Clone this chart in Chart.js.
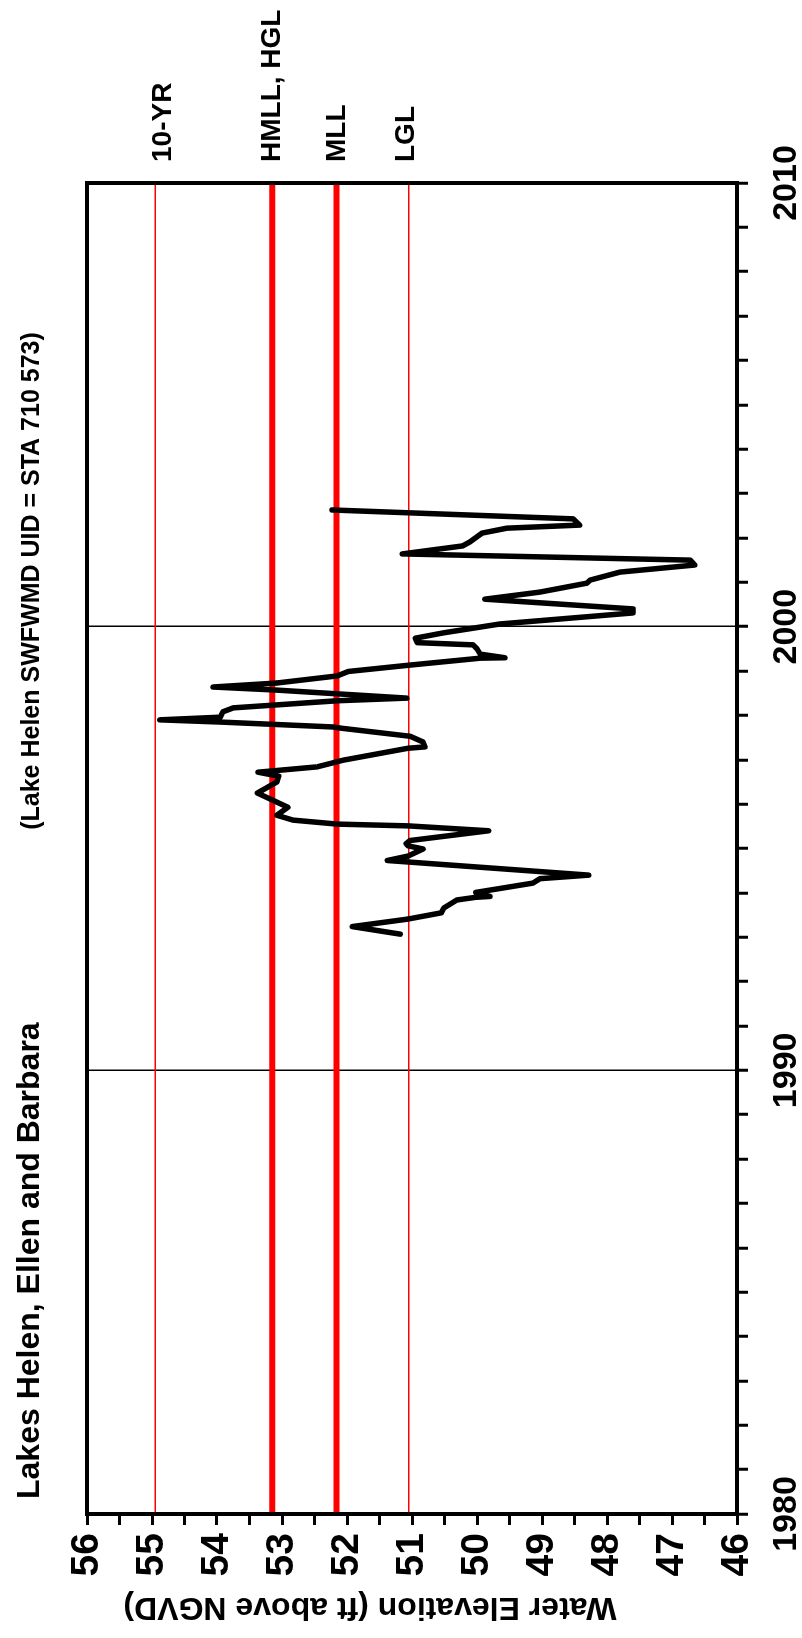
<!DOCTYPE html>
<html><head><meta charset="utf-8">
<script src="https://cdn.jsdelivr.net/npm/chart.js@4"></script>
<style>
html,body{margin:0;padding:0;background:#fff;overflow:hidden;width:802px;height:1638px;}
#wrap{position:absolute;left:0;top:0;width:1638px;height:802px;transform-origin:0 0;transform:translate(0,1638px) rotate(-90deg);}
canvas{display:block;}
</style></head><body>
<div id="wrap"><canvas id="c" width="1638" height="802"></canvas></div>
<script>
// ---- data ----
const years = [1993.07,1993.24,1993.41,1993.55,1993.66,1993.84,1993.90,1993.92,1994.01,1994.22,1994.32,1994.40,1994.73,1994.83,1994.99,1995.06,1995.11,1995.18,1995.40,1995.51,1995.55,1995.64,1995.75,1995.93,1996.25,1996.50,1996.63,1996.72,1996.84,1996.99,1997.26,1997.29,1997.40,1997.53,1997.71,1997.74,1997.85,1997.90,1997.96,1998.08,1998.17,1998.33,1998.39,1998.57,1998.64,1998.73,1998.89,1998.99,1999.13,1999.29,1999.30,1999.38,1999.50,1999.59,1999.64,1999.74,1999.86,2000.06,2000.31,2000.40,2000.62,2000.78,2000.98,2001.05,2001.23,2001.39,2001.50,2001.64,2001.82,2001.91,2002.11,2002.22,2002.29,2002.43,2002.63];
const elevations = [51.18,51.92,51.06,50.55,50.51,50.31,50.02,49.80,50.02,49.14,49.03,48.28,51.38,51.06,50.83,51.06,51.09,51.03,49.82,51.06,52.15,52.83,53.08,52.91,53.38,53.08,53.05,53.37,52.46,52.06,51.06,50.80,50.83,51.03,52.08,52.22,53.95,54.88,53.95,53.91,53.75,52.15,51.08,53.08,54.06,53.08,52.15,51.98,51.06,49.95,49.57,49.95,50.00,50.06,50.92,50.95,50.52,49.65,47.60,47.60,49.88,49.03,48.31,48.26,47.80,46.65,46.72,51.15,50.22,50.11,49.92,49.54,48.42,48.52,52.23];
const refLevels = [54.95, 53.15, 52.16, 51.05];
const refLabels = ['10-YR', 'HMLL, HGL', 'MLL', 'LGL'];
const yearRange = [1980, 2010];
const yearTickLabels = [1980, 1990, 2000, 2010];
const elevRange = [46, 56];
const elevTickLabels = [56, 55, 54, 53, 52, 51, 50, 49, 48, 47, 46];
const chartTitle = 'Lakes Helen, Ellen and Barbara';
const chartSubtitle = '(Lake Helen SWFWMD UID = STA 710 573)';
const yAxisTitle = 'Water Elevation (ft above NGVD)';

// ---- styling ----
const FAM = "'Liberation Sans', Arial, Helvetica, sans-serif";
const refWidths = [1.5, 6, 6, 1.5];
const refLabelOffsets = [16, 8, 8, 5];

const datasets = [{
  data: years.map((x, i) => ({x, y: elevations[i]})),
  borderColor: '#000', borderWidth: 5.5, pointRadius: 0, showLine: true,
  borderJoinStyle: 'round', borderCapStyle: 'round', tension: 0
}];
refLevels.forEach((v, i) => datasets.push({
  data: [{x: yearRange[0], y: v}, {x: yearRange[1], y: v}],
  borderColor: '#ff0000', borderWidth: refWidths[i], pointRadius: 0, showLine: true
}));

const textPlugin = {
  id: 'texts',
  afterDraw(chart) {
    const {ctx, chartArea: a, scales: {y}} = chart;
    ctx.save();
    ctx.strokeStyle = '#000'; ctx.lineWidth = 4;
    ctx.strokeRect(a.left, a.top, a.right - a.left, a.bottom - a.top);
    ctx.fillStyle = '#000';
    ctx.textBaseline = 'alphabetic';
    ctx.textAlign = 'left';
    ctx.font = 'bold 32px ' + FAM;
    ctx.fillText(chartTitle, 139, 39);
    ctx.textAlign = 'center';
    ctx.font = 'bold 25px ' + FAM;
    ctx.fillText(chartSubtitle, 1057, 39);
    ctx.textAlign = 'left';
    ctx.font = 'bold 28px ' + FAM;
    refLabels.forEach((t, i) => {
      ctx.fillText(t, a.right + 21, y.getPixelForValue(refLevels[i]) + refLabelOffsets[i]);
    });
    ctx.translate(40, 370);
    ctx.rotate(-Math.PI / 2);
    ctx.textAlign = 'center';
    ctx.font = 'bold 32px ' + FAM;
    ctx.fillText(yAxisTitle, 0, 0);
    ctx.restore();
  }
};

new Chart(document.getElementById('c'), {
  type: 'scatter',
  data: {datasets},
  plugins: [textPlugin],
  options: {
    responsive: false, animation: false, devicePixelRatio: 1,
    layout: {padding: {top: 87, right: 183, left: 0, bottom: 0}},
    plugins: {legend: {display: false}, tooltip: {enabled: false}, title: {display: false}},
    scales: {
      x: {
        type: 'linear', min: yearRange[0], max: yearRange[1], position: 'bottom',
        afterFit(s) { s.height = 65; },
        border: {display: true, color: '#000', width: 4},
        grid: {
          drawOnChartArea: true, drawTicks: true, tickLength: 11, tickColor: '#000', tickWidth: 3,
          lineWidth: 1.5,
          color: c => (c.tick && (c.tick.value === 1990 || c.tick.value === 2000)) ? '#000' : 'rgba(0,0,0,0)'
        },
        ticks: {
          stepSize: 1, autoSkip: false, maxRotation: 0, minRotation: 0, maxTicksLimit: 100, padding: 18,
          color: '#000', font: {family: FAM, size: 34, weight: 'bold'},
          callback: v => yearTickLabels.includes(v) ? String(v) : ''
        }
      },
      y: {
        type: 'linear', min: elevRange[0], max: elevRange[1], position: 'left',
        afterFit(s) { s.width = 124; },
        border: {display: true, color: '#000', width: 4},
        grid: {drawOnChartArea: false, drawTicks: true, tickLength: 11, tickColor: '#000', tickWidth: 3, color: '#000'},
        ticks: {
          stepSize: 0.5, autoSkip: false, maxTicksLimit: 100, padding: 8,
          color: '#000', font: {family: FAM, size: 39, weight: 'bold'},
          callback: v => elevTickLabels.includes(v) ? String(v) : ''
        }
      }
    }
  }
});
</script>
</body></html>
